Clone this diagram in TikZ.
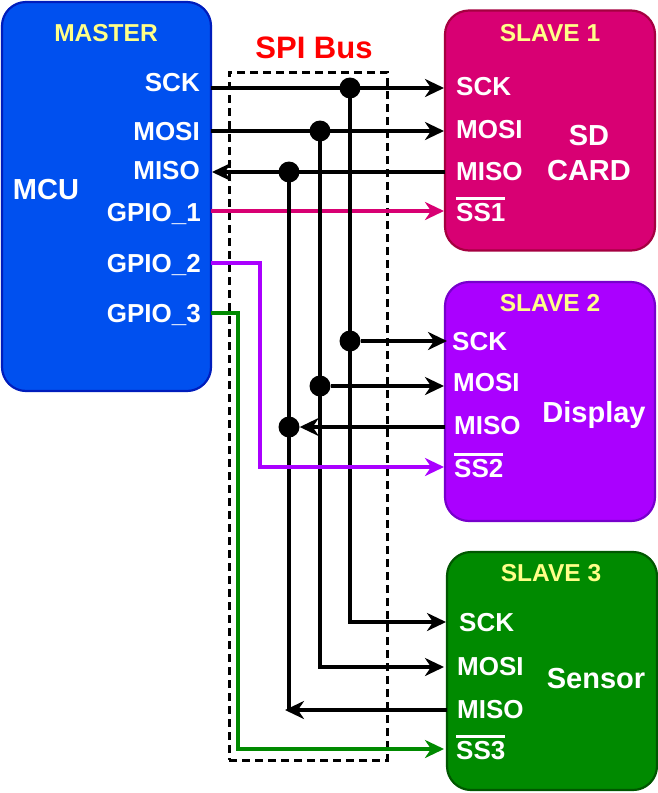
\documentclass[tikz,border=0pt]{standalone}
\usepackage{fontspec}
\setmainfont{Liberation Sans}
\usetikzlibrary{positioning, arrows.meta}

\definecolor{mcufill}{HTML}{0050EF}
\definecolor{mcuedge}{HTML}{001DBC}
\definecolor{sdfill}{HTML}{D80073}
\definecolor{sdedge}{HTML}{A50040}
\definecolor{dispfill}{HTML}{AA00FF}
\definecolor{dispedge}{HTML}{7700CC}
\definecolor{sensfill}{HTML}{008A00}
\definecolor{sensedge}{HTML}{005700}
\definecolor{titleyellow}{HTML}{FFFF88}
\definecolor{busred}{HTML}{FF0000}

% active-low select pin
\newcommand{\ssbar}[1]{\vbox{\hrule height 2.8pt\kern 2.6pt\hbox{#1}}}

\begin{document}
\begin{tikzpicture}[
  x=1pt, y=-1pt,
  every node/.style={font=\bfseries\fontsize{26}{30}\selectfont, text=white, inner sep=0pt},
  chip/.style={draw, line width=2.2pt, rounded corners=24pt},
  title/.style={anchor=base, text=titleyellow, font=\bfseries\fontsize{24.5}{28}\selectfont},
  big/.style={font=\bfseries\fontsize{29}{35}\selectfont, align=center},
  pinl/.style={anchor=base east},
  pinr/.style={anchor=base west},
  wire/.style={line width=3.2pt},
  arr/.style={wire, -{Stealth[length=19pt, width=18pt, inset=6pt]}},
  sel/.style={line width=4pt, -{Stealth[length=19pt, width=18pt, inset=6pt]}},
  dot/.style={circle, fill=black, minimum size=21pt}
]
  \useasboundingbox (0,0) rectangle (658,793);

  % boxes
  \node[chip, fill=mcufill, draw=mcuedge, minimum width=209pt, minimum height=389pt] (master) at (106.5,196.5) {};
  \node[chip, fill=sdfill, draw=sdedge, minimum width=210pt, minimum height=240pt] (slave1) at (550,130.5) {};
  \node[chip, fill=dispfill, draw=dispedge, minimum width=210pt, minimum height=239pt] (slave2) at (550,401.5) {};
  \node[chip, fill=sensfill, draw=sensedge, minimum width=210pt, minimum height=238pt] (slave3) at (552,671) {};
  \node[draw, line width=3pt, dash pattern=on 8pt off 5pt, minimum width=158pt, minimum height=688pt] (bus) at (308,416) {};

  % labels
  \node[title] (mtitle) at (106,41) {MASTER};
  \node[big, anchor=center] (mcu) at (46,190) {MCU};
  \node[pinl] (msck) at (200,91) {SCK};
  \node[pinl] (mmosi) at (200,140) {MOSI};
  \node[pinl] (mmiso) at (200,179) {MISO};
  \node[pinl] (mg1) at (201,221) {GPIO\_1};
  \node[pinl] (mg2) at (201,272) {GPIO\_2};
  \node[pinl] (mg3) at (201,322) {GPIO\_3};
  \node[anchor=base, text=busred, font=\bfseries\fontsize{31}{36}\selectfont] (buslbl) at (314,58) {SPI Bus};

  \node[title] (s1title) at (550,41) {SLAVE 1};
  \node[pinr] (s1sck) at (456,95) {SCK};
  \node[pinr] (s1mosi) at (456,138) {MOSI};
  \node[pinr] (s1miso) at (456,180) {MISO};
  \node[pinr] (s1ss) at (456,221) {\ssbar{SS1}};
  \node[big, anchor=center] (sd) at (589,153) {SD\\CARD};

  \node[title] (s2title) at (550,311) {SLAVE 2};
  \node[pinr] (s2sck) at (452,350) {SCK};
  \node[pinr] (s2mosi) at (453,391) {MOSI};
  \node[pinr] (s2miso) at (454,434) {MISO};
  \node[pinr] (s2ss) at (454,477) {\ssbar{SS2}};
  \node[big, anchor=base] (disp) at (594,422) {Display};

  \node[title] (s3title) at (551,581) {SLAVE 3};
  \node[pinr] (s3sck) at (459,631) {SCK};
  \node[pinr] (s3mosi) at (457,675) {MOSI};
  \node[pinr] (s3miso) at (457,718) {MISO};
  \node[pinr] (s3ss) at (456,759) {\ssbar{SS3}};
  \node[big, anchor=base] (sens) at (596,688) {Sensor};

  % wire ends
  \coordinate (m-sck) at (211,88);
  \coordinate (m-mosi) at (211,131);
  \coordinate (m-miso) at (212,172);
  \coordinate (m-g1) at (211,211);
  \coordinate (m-g2) at (211,263);
  \coordinate (m-g3) at (211,313);
  \coordinate (p1-sck) at (444,88);
  \coordinate (p1-mosi) at (444,131);
  \coordinate (p1-miso) at (445,172);
  \coordinate (p1-ss) at (444,211);
  \coordinate (p2-sck) at (447,341);
  \coordinate (p2-mosi) at (444,386);
  \coordinate (p2-miso) at (445,427);
  \coordinate (p2-ss) at (444,467);
  \coordinate (p3-sck) at (446,622);
  \coordinate (p3-mosi) at (444,667);
  \coordinate (p3-miso) at (447,710);
  \coordinate (p3-ss) at (444,749);
  \coordinate (g2-bend) at (260,467);
  \coordinate (g3-bend) at (238,749);
  \coordinate (miso-end) at (285,710);

  % junctions
  \node[dot] (j-sck1) at (350,88) {};
  \node[dot] (j-mosi1) at (320,131) {};
  \node[dot] (j-miso1) at (289,172) {};
  \node[dot] (j-sck2) at (350,341) {};
  \node[dot] (j-mosi2) at (320,386) {};
  \node[dot] (j-miso2) at (289,427) {};

  \draw[sel, sdfill] (m-g1) -- (p1-ss);
  \draw[sel, sensfill] (m-g3) -| (g3-bend) -- (p3-ss);

  \draw[arr] (m-sck) -- (p1-sck);
  \draw[arr] (m-mosi) -- (p1-mosi);
  \draw[arr] (p1-miso) -- (m-miso);

  \draw[arr] (j-sck1.center) |- (p3-sck);
  \draw[arr] (j-mosi1.center) |- (p3-mosi);
  \draw[wire] (j-miso1.center) -- (j-miso1.center |- miso-end);
  \draw[arr] (p3-miso) -- (miso-end);

  \draw[arr] (j-sck2) -- (p2-sck);
  \draw[arr] (j-mosi2) -- (p2-mosi);
  \draw[arr] (p2-miso) -- (j-miso2);

  \draw[sel, dispfill] (m-g2) -| (g2-bend) -- (p2-ss);
\end{tikzpicture}
\end{document}
